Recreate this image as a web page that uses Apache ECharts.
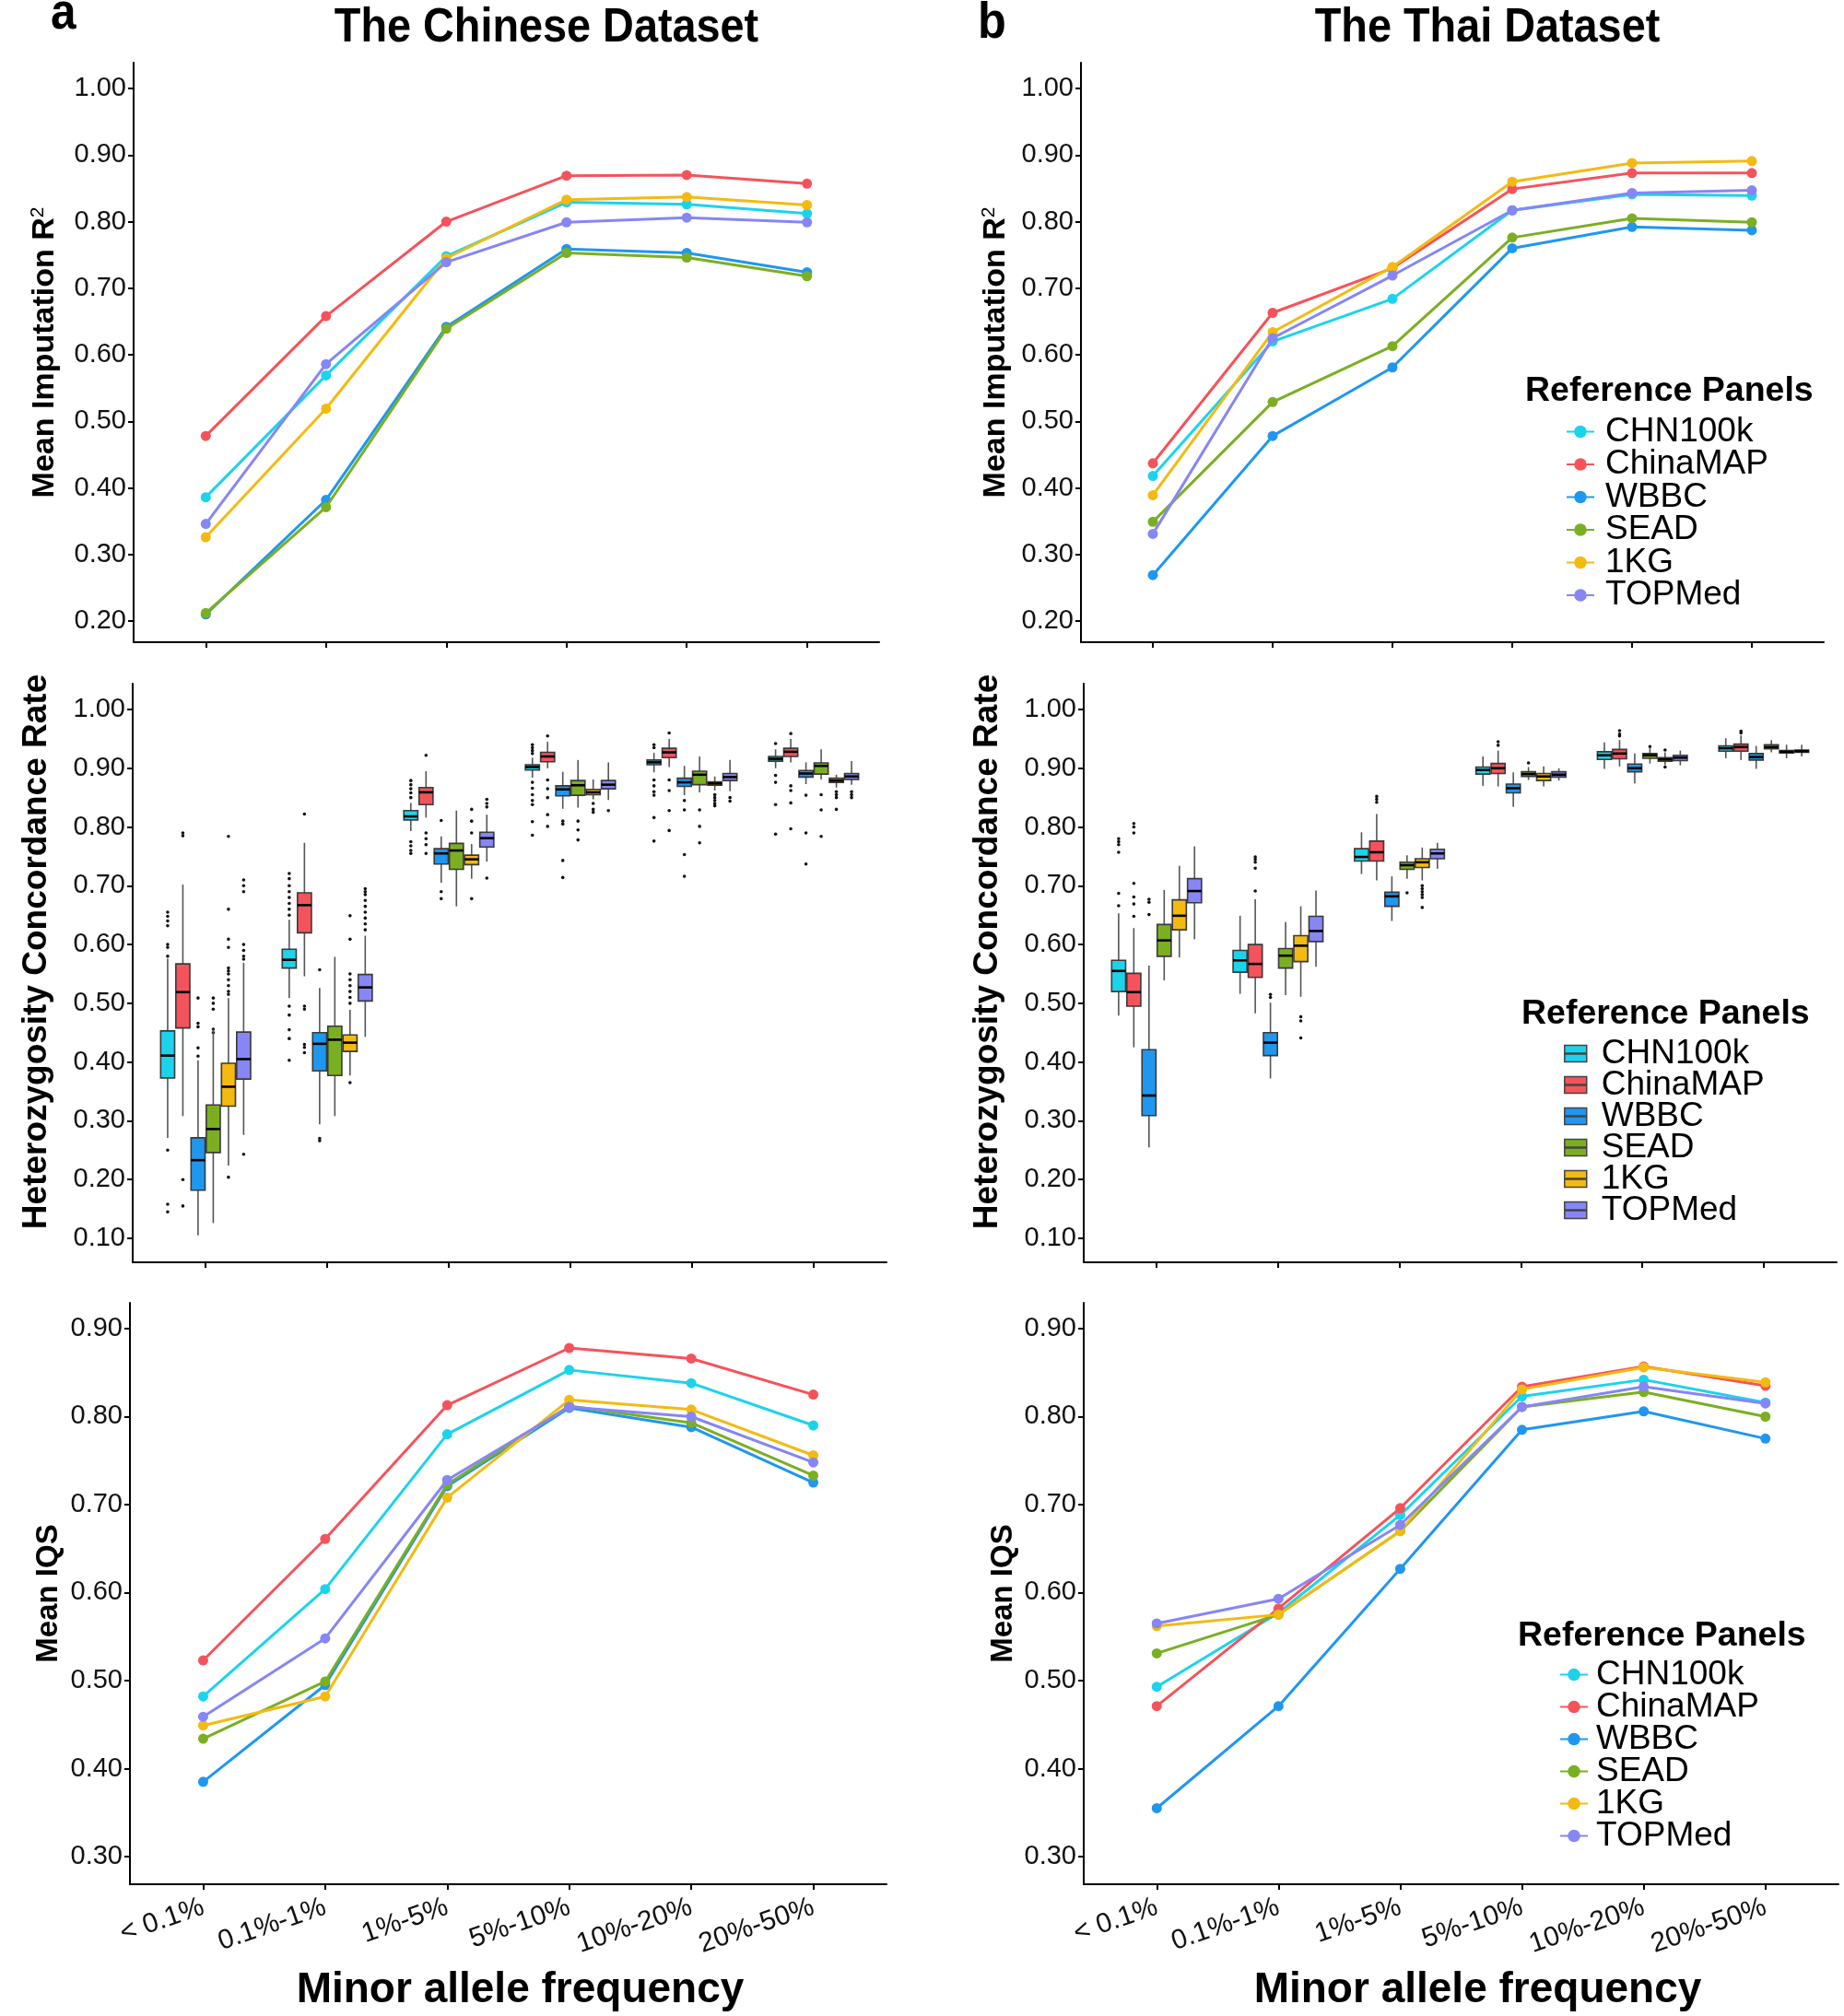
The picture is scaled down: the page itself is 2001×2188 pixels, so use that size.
<!DOCTYPE html>
<html>
<head>
<meta charset="utf-8">
<script src="https://cdn.jsdelivr.net/npm/echarts@6/dist/echarts.min.js"></script>
<style>
html,body{margin:0;padding:0;background:#fff;}
#chart{width:2001px;height:2188px;}
</style>
</head>
<body>
<div id="chart"></div>
<script>
// ---------------- DATA ----------------
const categories = ['< 0.1%', '0.1%-1%', '1%-5%', '5%-10%', '10%-20%', '20%-50%'];
const panels = ['CHN100k', 'ChinaMAP', 'WBBC', 'SEAD', '1KG', 'TOPMed'];

const yTicksR2 = [0.2, 0.3, 0.4, 0.5, 0.6, 0.7, 0.8, 0.9, 1.0];
const yTicksHet = [0.1, 0.2, 0.3, 0.4, 0.5, 0.6, 0.7, 0.8, 0.9, 1.0];
const yTicksIQS = [0.3, 0.4, 0.5, 0.6, 0.7, 0.8, 0.9];

// Mean imputation R^2 - Chinese dataset
const r2CN_CHN100k = [0.386, 0.569, 0.748, 0.829, 0.826, 0.812];
const r2CN_ChinaMAP = [0.478, 0.658, 0.800, 0.869, 0.870, 0.857];
const r2CN_WBBC = [0.210, 0.382, 0.642, 0.759, 0.753, 0.724];
const r2CN_SEAD = [0.212, 0.371, 0.639, 0.753, 0.746, 0.718];
const r2CN_1KG = [0.326, 0.519, 0.745, 0.833, 0.837, 0.825];
const r2CN_TOPMed = [0.346, 0.586, 0.739, 0.799, 0.806, 0.799];

// Mean imputation R^2 - Thai dataset
const r2TH_CHN100k = [0.418, 0.620, 0.684, 0.817, 0.841, 0.839];
const r2TH_ChinaMAP = [0.437, 0.663, 0.730, 0.849, 0.873, 0.873];
const r2TH_WBBC = [0.269, 0.478, 0.581, 0.760, 0.792, 0.787];
const r2TH_SEAD = [0.349, 0.529, 0.613, 0.776, 0.805, 0.799];
const r2TH_1KG = [0.389, 0.634, 0.732, 0.860, 0.888, 0.891];
const r2TH_TOPMed = [0.331, 0.625, 0.719, 0.817, 0.843, 0.847];

// Mean IQS - Chinese dataset
const iqsCN_CHN100k = [0.482, 0.604, 0.780, 0.853, 0.838, 0.790];
const iqsCN_ChinaMAP = [0.523, 0.661, 0.813, 0.878, 0.866, 0.825];
const iqsCN_WBBC = [0.385, 0.495, 0.721, 0.810, 0.788, 0.725];
const iqsCN_SEAD = [0.434, 0.499, 0.723, 0.812, 0.793, 0.733];
const iqsCN_1KG = [0.449, 0.482, 0.708, 0.819, 0.808, 0.756];
const iqsCN_TOPMed = [0.459, 0.548, 0.728, 0.811, 0.800, 0.748];

// Mean IQS - Thai dataset
const iqsTH_CHN100k = [0.493, 0.577, 0.688, 0.823, 0.842, 0.816];
const iqsTH_ChinaMAP = [0.471, 0.582, 0.696, 0.834, 0.857, 0.835];
const iqsTH_WBBC = [0.355, 0.471, 0.627, 0.785, 0.806, 0.775];
const iqsTH_SEAD = [0.531, 0.575, 0.670, 0.811, 0.828, 0.800];
const iqsTH_1KG = [0.562, 0.575, 0.670, 0.831, 0.856, 0.839];
const iqsTH_TOPMed = [0.565, 0.593, 0.677, 0.811, 0.834, 0.815];

// Heterozygosity concordance boxes [lowerWhisker, Q1, median, Q3, upperWhisker] per MAF bin - Chinese
const hetCN_CHN100k = [[0.271,0.373,0.411,0.453,0.576],[0.509,0.560,0.574,0.592,0.642],[0.793,0.812,0.818,0.828,0.841],[0.884,0.897,0.902,0.906,0.918],[0.893,0.906,0.910,0.914,0.926],[0.900,0.912,0.916,0.920,0.932]];
const hetCN_ChinaMAP = [[0.308,0.458,0.519,0.567,0.702],[0.546,0.620,0.667,0.688,0.773],[0.816,0.838,0.859,0.867,0.895],[0.900,0.911,0.920,0.927,0.945],[0.902,0.918,0.927,0.934,0.950],[0.910,0.920,0.928,0.934,0.950]];
const hetCN_WBBC = [[0.105,0.182,0.233,0.271,0.403],[0.294,0.385,0.431,0.450,0.526],[0.705,0.737,0.755,0.763,0.784],[0.831,0.853,0.864,0.870,0.894],[0.854,0.869,0.876,0.883,0.904],[0.873,0.885,0.891,0.896,0.910]];
const hetCN_SEAD = [[0.126,0.246,0.286,0.327,0.456],[0.308,0.377,0.438,0.461,0.579],[0.665,0.728,0.760,0.772,0.828],[0.833,0.854,0.871,0.879,0.914],[0.859,0.872,0.889,0.895,0.920],[0.881,0.890,0.904,0.909,0.932]];
const hetCN_1KG = [[0.224,0.325,0.358,0.398,0.509],[0.377,0.418,0.433,0.446,0.489],[0.712,0.736,0.745,0.752,0.771],[0.847,0.855,0.859,0.864,0.881],[0.862,0.871,0.874,0.877,0.886],[0.867,0.876,0.879,0.883,0.889]];
const hetCN_TOPMed = [[0.276,0.371,0.405,0.451,0.569],[0.443,0.504,0.527,0.549,0.615],[0.741,0.766,0.781,0.791,0.821],[0.846,0.865,0.872,0.879,0.910],[0.861,0.879,0.885,0.891,0.914],[0.872,0.881,0.886,0.891,0.912]];

// Outliers [binIndex, value] - Chinese
const hetCNout_CHN100k = [[0,0.655],[0,0.648],[0,0.640],[0,0.632],[0,0.600],[0,0.595],[0,0.580],[0,0.250],[0,0.158],[0,0.145],[1,0.721],[1,0.712],[1,0.700],[1,0.690],[1,0.680],[1,0.670],[1,0.660],[1,0.650],[1,0.495],[1,0.480],[1,0.455],[1,0.440],[1,0.403],[2,0.879],[2,0.872],[2,0.865],[2,0.858],[2,0.850],[2,0.775],[2,0.768],[2,0.760],[2,0.755],[3,0.940],[3,0.935],[3,0.930],[3,0.925],[3,0.876],[3,0.866],[3,0.855],[3,0.845],[3,0.838],[3,0.809],[3,0.786],[4,0.940],[4,0.935],[4,0.880],[4,0.870],[4,0.860],[4,0.854],[4,0.816],[4,0.776],[5,0.942],[5,0.888],[5,0.876],[5,0.838],[5,0.788]];
const hetCNout_ChinaMAP = [[0,0.790],[0,0.785],[0,0.200],[0,0.155],[1,0.822],[1,0.495],[1,0.490],[1,0.430],[1,0.425],[1,0.416],[2,0.922],[2,0.790],[2,0.780],[2,0.770],[2,0.755],[3,0.955],[3,0.880],[3,0.865],[3,0.850],[3,0.821],[3,0.801],[4,0.960],[4,0.880],[4,0.862],[4,0.828],[4,0.794],[5,0.959],[5,0.870],[5,0.862],[5,0.841],[5,0.797]];
const hetCNout_WBBC = [[0,0.509],[0,0.466],[0,0.460],[0,0.424],[0,0.410],[1,0.557],[1,0.270],[1,0.266],[2,0.811],[2,0.690],[2,0.678],[3,0.810],[3,0.805],[3,0.743],[3,0.714],[4,0.845],[4,0.829],[4,0.753],[4,0.716],[5,0.854],[5,0.790],[5,0.737]];
const hetCNout_SEAD = [[0,0.509],[0,0.500],[0,0.490],[0,0.456],[0,0.450],[3,0.810],[3,0.795],[3,0.778],[4,0.829],[4,0.801],[4,0.773],[5,0.855],[5,0.829],[5,0.784]];
const hetCNout_1KG = [[0,0.784],[0,0.660],[0,0.609],[0,0.595],[0,0.560],[0,0.555],[0,0.550],[0,0.540],[0,0.530],[0,0.520],[0,0.515],[0,0.204],[1,0.649],[1,0.609],[1,0.550],[1,0.540],[1,0.530],[1,0.520],[1,0.510],[1,0.500],[1,0.365],[2,0.830],[2,0.810],[2,0.790],[2,0.678],[3,0.840],[3,0.830],[3,0.825],[4,0.855],[4,0.850],[4,0.845],[4,0.840],[4,0.836],[5,0.860],[5,0.855],[5,0.850],[5,0.830]];
const hetCNout_TOPMed = [[0,0.710],[0,0.700],[0,0.690],[0,0.600],[0,0.590],[0,0.580],[0,0.575],[0,0.243],[1,0.695],[1,0.690],[1,0.685],[1,0.675],[1,0.665],[1,0.655],[1,0.645],[1,0.635],[1,0.625],[2,0.847],[2,0.840],[2,0.834],[2,0.713],[3,0.828],[4,0.850],[4,0.844],[5,0.860],[5,0.855],[5,0.850]];

// Heterozygosity concordance boxes - Thai
const hetTH_CHN100k = [[0.479,0.520,0.555,0.573,0.653],[0.516,0.553,0.573,0.590,0.649],[0.720,0.742,0.749,0.763,0.791],[0.870,0.890,0.897,0.902,0.920],[0.899,0.915,0.922,0.928,0.944],[0.917,0.929,0.934,0.938,0.951]];
const hetTH_ChinaMAP = [[0.425,0.495,0.519,0.551,0.628],[0.483,0.544,0.567,0.600,0.677],[0.709,0.742,0.757,0.776,0.822],[0.869,0.891,0.900,0.908,0.930],[0.903,0.916,0.925,0.932,0.948],[0.914,0.929,0.936,0.941,0.956]];
const hetTH_WBBC = [[0.255,0.309,0.343,0.421,0.564],[0.372,0.411,0.433,0.450,0.501],[0.640,0.665,0.682,0.689,0.716],[0.834,0.858,0.866,0.873,0.893],[0.874,0.894,0.900,0.907,0.925],[0.899,0.914,0.919,0.925,0.938]];
const hetTH_SEAD = [[0.539,0.580,0.607,0.634,0.693],[0.514,0.560,0.581,0.593,0.638],[0.712,0.728,0.735,0.740,0.752],[0.880,0.886,0.890,0.894,0.902],[0.908,0.917,0.922,0.925,0.934],[0.927,0.933,0.936,0.940,0.948]];
const hetTH_1KG = [[0.578,0.625,0.649,0.676,0.734],[0.511,0.571,0.598,0.615,0.665],[0.709,0.731,0.740,0.746,0.765],[0.869,0.879,0.886,0.891,0.903],[0.905,0.912,0.915,0.918,0.927],[0.917,0.926,0.928,0.930,0.940]];
const hetTH_TOPMed = [[0.609,0.671,0.691,0.712,0.767],[0.562,0.605,0.623,0.648,0.692],[0.729,0.746,0.755,0.762,0.773],[0.879,0.885,0.889,0.894,0.900],[0.905,0.913,0.918,0.922,0.930],[0.920,0.927,0.929,0.931,0.940]];

// Outliers - Thai
const hetTHout_CHN100k = [[0,0.780],[0,0.775],[0,0.770],[0,0.757],[0,0.687],[0,0.666]];
const hetTHout_ChinaMAP = [[0,0.806],[0,0.800],[0,0.790],[0,0.704],[0,0.681],[0,0.669],[0,0.648],[1,0.749],[1,0.745],[1,0.740],[1,0.730],[1,0.691],[2,0.852],[2,0.847],[2,0.842],[3,0.945],[3,0.939],[4,0.964],[4,0.958],[4,0.955],[5,0.963],[5,0.960]];
const hetTHout_WBBC = [[0,0.677],[0,0.672],[0,0.651],[1,0.515],[1,0.510]];
const hetTHout_SEAD = [[2,0.688],[3,0.909],[4,0.937]];
const hetTHout_1KG = [[1,0.477],[1,0.470],[1,0.441],[2,0.700],[2,0.695],[2,0.690],[2,0.685],[2,0.680],[2,0.663],[4,0.931],[4,0.902]];
const hetTHout_TOPMed = [];

// ---------------- STYLE ----------------
const colors = ['#1CD3EC', '#F5535B', '#1F97EF', '#7BAF22', '#F3BA12', '#8686F5'];
const FONT = '"Liberation Sans", Arial, Helvetica, sans-serif';
const BOX_STEP = 0.125;
const BOX_WIDTH = 0.115;

const r2CN = [r2CN_CHN100k, r2CN_ChinaMAP, r2CN_WBBC, r2CN_SEAD, r2CN_1KG, r2CN_TOPMed];
const r2TH = [r2TH_CHN100k, r2TH_ChinaMAP, r2TH_WBBC, r2TH_SEAD, r2TH_1KG, r2TH_TOPMed];
const iqsCN = [iqsCN_CHN100k, iqsCN_ChinaMAP, iqsCN_WBBC, iqsCN_SEAD, iqsCN_1KG, iqsCN_TOPMed];
const iqsTH = [iqsTH_CHN100k, iqsTH_ChinaMAP, iqsTH_WBBC, iqsTH_SEAD, iqsTH_1KG, iqsTH_TOPMed];
const hetCN = [hetCN_CHN100k, hetCN_ChinaMAP, hetCN_WBBC, hetCN_SEAD, hetCN_1KG, hetCN_TOPMed];
const hetTH = [hetTH_CHN100k, hetTH_ChinaMAP, hetTH_WBBC, hetTH_SEAD, hetTH_1KG, hetTH_TOPMed];
const hetCNout = [hetCNout_CHN100k, hetCNout_ChinaMAP, hetCNout_WBBC, hetCNout_SEAD, hetCNout_1KG, hetCNout_TOPMed];
const hetTHout = [hetTHout_CHN100k, hetTHout_ChinaMAP, hetTHout_WBBC, hetTHout_SEAD, hetTHout_1KG, hetTHout_TOPMed];

const axisLineStyle = { color: '#000', width: 2 };
const tickIdx = categories.map((c, i) => i);

function xAxisFor(g, showLabels, namePad) {
  return {
    type: 'value', gridIndex: g, min: -0.6, max: 5.6,
    axisLine: { show: true, onZero: false, lineStyle: axisLineStyle },
    axisTick: { show: true, customValues: tickIdx, length: 6, lineStyle: axisLineStyle },
    axisLabel: {
      show: showLabels, customValues: tickIdx,
      formatter: v => categories[Math.round(v)],
      rotate: 19, fontSize: 30, color: '#111', margin: 24, fontFamily: FONT
    },
    splitLine: { show: false },
    name: showLabels ? 'Minor allele frequency' : '',
    nameLocation: 'middle', nameGap: 92,
    nameTextStyle: { fontSize: 46, fontWeight: 'bold', color: '#000', fontFamily: FONT, padding: [0, 0, 0, namePad || 0] }
  };
}

function yAxisFor(g, min, max, ticks, name, nameGap, nameStyle) {
  return {
    type: 'value', gridIndex: g, min: min, max: max,
    axisLine: { show: true, onZero: false, lineStyle: axisLineStyle },
    axisTick: { show: true, customValues: ticks, length: 6, lineStyle: axisLineStyle },
    axisLabel: { customValues: ticks, formatter: v => v.toFixed(2), fontSize: 29, color: '#111', margin: 8, fontFamily: FONT },
    splitLine: { show: false },
    name: name, nameLocation: 'middle', nameRotate: 90, nameGap: nameGap,
    nameTextStyle: nameStyle
  };
}

const r2NameStyle = {
  color: '#000', fontFamily: FONT,
  rich: {
    a: { fontSize: 34, fontWeight: 'bold', color: '#000', fontFamily: FONT, lineHeight: 36 },
    s: { fontSize: 21, color: '#000', fontFamily: FONT, verticalAlign: 'top', lineHeight: 36 }
  }
};
const hetNameStyle = { fontSize: 37, fontWeight: 'bold', color: '#000', fontFamily: FONT, padding: [0, 0, 0, 46] };
const iqsNameStyle = { fontSize: 33, fontWeight: 'bold', color: '#000', fontFamily: FONT };

const grids = [
  { left: 145, top: 68, width: 809, height: 629 },   // 0 top a
  { left: 1173, top: 68, width: 806, height: 629 },  // 1 top b
  { left: 144, top: 742, width: 818, height: 628 },  // 2 mid a
  { left: 1176, top: 742, width: 817, height: 628 }, // 3 mid b
  { left: 141, top: 1414, width: 821, height: 631 }, // 4 bottom a
  { left: 1176, top: 1414, width: 819, height: 631 } // 5 bottom b
];

const xAxes = [
  xAxisFor(0, false), xAxisFor(1, false), xAxisFor(2, false), xAxisFor(3, false),
  xAxisFor(4, true, 26), xAxisFor(5, true, 36)
];
const yAxes = [
  yAxisFor(0, 0.1682, 1.0388, yTicksR2, '{a|Mean Imputation R}{s|2}', 78, r2NameStyle),
  yAxisFor(1, 0.1682, 1.0388, yTicksR2, '{a|Mean Imputation R}{s|2}', 74, r2NameStyle),
  yAxisFor(2, 0.0592, 1.0439, yTicksHet, 'Heterozygosity Concordance Rate', 86, hetNameStyle),
  yAxisFor(3, 0.0592, 1.0439, yTicksHet, 'Heterozygosity Concordance Rate', 86, hetNameStyle),
  yAxisFor(4, 0.2686, 0.9293, yTicksIQS, 'Mean IQS', 72, iqsNameStyle),
  yAxisFor(5, 0.2686, 0.9293, yTicksIQS, 'Mean IQS', 71, iqsNameStyle)
];

function lineSeries(g, table) {
  return panels.map((name, i) => ({
    type: 'line', name: name, xAxisIndex: g, yAxisIndex: g,
    data: table[i].map((v, j) => [j, v]),
    symbol: 'circle', symbolSize: 11, showSymbol: true,
    lineStyle: { width: 3, color: colors[i] },
    itemStyle: { color: colors[i] },
    emphasis: { disabled: true },
    z: 2 + i
  }));
}

function boxRenderer(k) {
  return function (params, api) {
    const xi = api.value(0);
    const unit = api.size([1, 0])[0];
    const cx = api.coord([xi, api.value(3)])[0] + (k - 2.5) * BOX_STEP * unit;
    const half = BOX_WIDTH * unit / 2;
    const yLo = api.coord([xi, api.value(1)])[1];
    const yQ1 = api.coord([xi, api.value(2)])[1];
    const yMed = api.coord([xi, api.value(3)])[1];
    const yQ3 = api.coord([xi, api.value(4)])[1];
    const yHi = api.coord([xi, api.value(5)])[1];
    const fill = api.visual('color');
    return {
      type: 'group',
      children: [
        { type: 'line', shape: { x1: cx, y1: yHi, x2: cx, y2: yQ3 }, style: { stroke: '#555', lineWidth: 1.6 } },
        { type: 'line', shape: { x1: cx, y1: yQ1, x2: cx, y2: yLo }, style: { stroke: '#555', lineWidth: 1.6 } },
        { type: 'rect', shape: { x: cx - half, y: yQ3, width: 2 * half, height: Math.max(yQ1 - yQ3, 1) }, style: { fill: fill, stroke: '#3a3a3a', lineWidth: 1.6 } },
        { type: 'line', shape: { x1: cx - half, y1: yMed, x2: cx + half, y2: yMed }, style: { stroke: '#000', lineWidth: 2.6 } }
      ]
    };
  };
}

function outlierRenderer(k) {
  return function (params, api) {
    const xi = api.value(0);
    const unit = api.size([1, 0])[0];
    const p = api.coord([xi, api.value(1)]);
    return { type: 'circle', shape: { cx: p[0] + (k - 2.5) * BOX_STEP * unit, cy: p[1], r: 1.8 }, style: { fill: '#111' } };
  };
}

function boxSeries(g, boxes, outs) {
  const list = [];
  panels.forEach((name, i) => {
    list.push({
      type: 'custom', name: name, xAxisIndex: g, yAxisIndex: g,
      data: boxes[i].map((b, j) => [j].concat(b)),
      encode: { x: 0, y: [1, 2, 3, 4, 5] },
      itemStyle: { color: colors[i] },
      renderItem: boxRenderer(i), z: 3
    });
    list.push({
      type: 'custom', name: name, xAxisIndex: g, yAxisIndex: g,
      data: outs[i],
      encode: { x: 0, y: 1 },
      itemStyle: { color: colors[i] },
      renderItem: outlierRenderer(i), z: 2
    });
  });
  return list;
}

const series = [].concat(
  lineSeries(0, r2CN), lineSeries(1, r2TH),
  boxSeries(2, hetCN, hetCNout), boxSeries(3, hetTH, hetTHout),
  lineSeries(4, iqsCN), lineSeries(5, iqsTH)
);

const legendText = { fontSize: 37, color: '#000', fontFamily: FONT };
const boxIcon = 'path://M0,0H24V8.4H0ZM0,9.6H24V18H0Z';

const legends = [
  {
    data: panels, orient: 'vertical', left: 1699, top: 450, padding: 0,
    itemWidth: 30, itemHeight: 17, itemGap: -1.5, selectedMode: false,
    textStyle: Object.assign({}, legendText, { lineHeight: 35, padding: [0, 0, 0, 7] })
  },
  {
    data: panels.map((n, i) => ({ name: n, icon: boxIcon, itemStyle: { color: colors[i], borderColor: '#444', borderWidth: 1.5 } })),
    orient: 'vertical', left: 1697, top: 1125, padding: 0,
    itemWidth: 24, itemHeight: 18, itemGap: -3, selectedMode: false,
    textStyle: Object.assign({}, legendText, { lineHeight: 34, padding: [0, 0, 0, 11] })
  },
  {
    data: panels, orient: 'vertical', left: 1692, top: 1799, padding: 0,
    itemWidth: 30, itemHeight: 17, itemGap: -2, selectedMode: false,
    textStyle: Object.assign({}, legendText, { lineHeight: 35, padding: [0, 0, 0, 4] })
  }
];

function txt(x, y, text, size, align, sx) {
  return {
    type: 'text', x: x, y: y, silent: true, scaleX: sx || 1, originX: 0, originY: 0,
    style: { text: text, fontSize: size, fontWeight: 'bold', fontFamily: FONT, fill: '#000', align: align, verticalAlign: 'middle' }
  };
}

const graphics = [
  txt(55, 16, 'a', 55, 'left', 0.9),
  txt(1061, 26, 'b', 56, 'left', 0.9),
  txt(593, 31, 'The Chinese Dataset', 52, 'center', 0.9),
  txt(1614, 31, 'The Thai Dataset', 52, 'center', 0.9),
  txt(1655, 425, 'Reference Panels', 37.5, 'left'),
  txt(1651, 1101, 'Reference Panels', 37.5, 'left'),
  txt(1647, 1776, 'Reference Panels', 37.5, 'left')
];

const chart = echarts.init(document.getElementById('chart'), null, { renderer: 'canvas' });
chart.setOption({
  animation: false,
  backgroundColor: '#fff',
  textStyle: { fontFamily: FONT },
  grid: grids,
  xAxis: xAxes,
  yAxis: yAxes,
  legend: legends,
  graphic: graphics,
  series: series
});
</script>
</body>
</html>
